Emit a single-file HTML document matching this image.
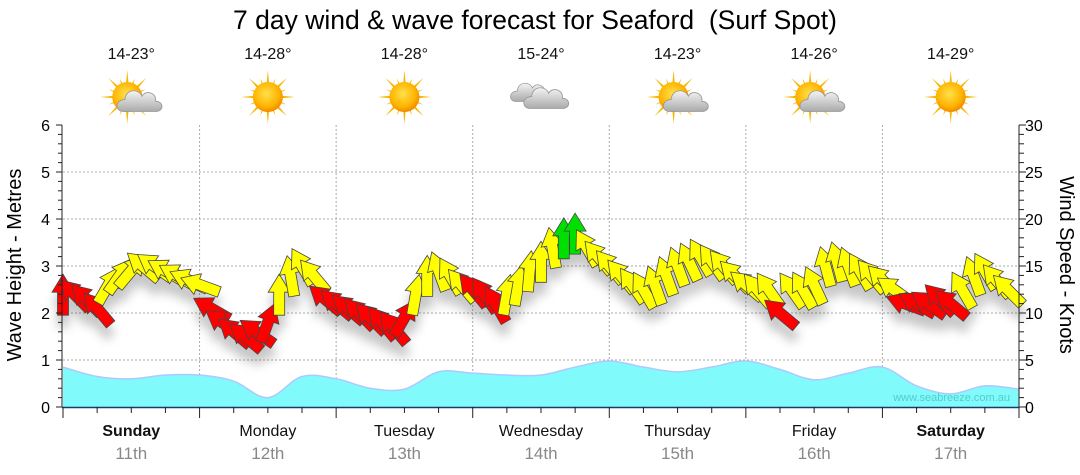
<!DOCTYPE html>
<html><head><meta charset="utf-8">
<style>
html,body{margin:0;padding:0;background:#fff;}
svg{display:block;font-family:"Liberation Sans","DejaVu Sans",sans-serif;}
</style></head>
<body>
<svg id="chart" width="1080" height="475" viewBox="0 0 1080 475">
<defs>
<filter id="sh" x="-50%" y="-50%" width="200%" height="250%">
<feDropShadow dx="0" dy="12" stdDeviation="5" flood-color="#000" flood-opacity="0.22"/>
</filter>
<radialGradient id="sunG" cx="45%" cy="40%" r="60%"><stop offset="0" stop-color="#ffe04a"/><stop offset="0.7" stop-color="#ffb400"/><stop offset="1" stop-color="#f08a00"/></radialGradient>
<linearGradient id="cloudG" x1="0" y1="0" x2="0" y2="1"><stop offset="0" stop-color="#f4f4f4"/><stop offset="1" stop-color="#aaa"/></linearGradient>
</defs>
<text x="535" y="29" text-anchor="middle" font-size="26.5" fill="#000" style="white-space:pre">7 day wind &amp; wave forecast for Seaford  (Surf Spot)</text>
<g id="grid"></g>
<g id="wave"></g>
<text x="1010" y="401" text-anchor="end" font-size="11" fill="#55cccc">www.seabreeze.com.au</text>
<g id="arrows" filter="url(#sh)"></g>
<g id="axes"></g>
<g id="header"></g>
<text transform="translate(21,265) rotate(-90)" text-anchor="middle" font-size="20" fill="#000">Wave Height - Metres</text>
<text transform="translate(1060,265) rotate(90)" text-anchor="middle" font-size="20" fill="#000">Wind Speed - Knots</text>
</svg>
<script>
const days = ["Sunday","Monday","Tuesday","Wednesday","Thursday","Friday","Saturday"];
const dates = ["11th","12th","13th","14th","15th","16th","17th"];
const boldDays = [true,false,false,false,false,false,true];
const temps = ["14-23°","14-28°","14-28°","15-24°","14-23°","14-26°","14-29°"];
const icons = ["partly","sun","sun","cloud","partly","partly","sun"];
const waveTicks = [0,1,2,3,4,5,6];
const windTicks = [0,5,10,15,20,25,30];
// wave height (m), every 6 hours
const waveHeights = [0.85,0.65,0.6,0.68,0.68,0.55,0.2,0.65,0.6,0.4,0.38,0.75,0.72,0.68,0.68,0.85,0.98,0.85,0.75,0.85,0.98,0.8,0.58,0.72,0.85,0.45,0.28,0.45,0.38];
// wind every 2 hours: speed (knots), direction (deg, 0=up), colour category
const windSpeed = [
12,12,11.5,10.5,13,14,14.5,15,15,14.5,14,13.5,
13,10.5,9,8,7.5,8,9,12,14,15,14,11.5,
11,10.5,10,9.5,9,8.5,9.5,12,14,14.5,14,13,
12.5,12,11,12,13,14.5,15.5,17,18,18.5,17,16,
15,14,13,12.5,13,14,15,15.5,16,15.5,15,14,
13,12.5,12.5,10,12.5,12.5,13,15,15.5,15,14.5,14,
13.5,12.5,11,11,11,11.5,11,12.5,14,14.5,13.5,12.5];
const windDir = [
0,-45,-45,-40,30,35,40,-50,-55,-60,-60,-65,
-70,-60,-55,-50,-50,-55,20,0,-10,-30,-40,-50,
-50,-50,-45,-45,-40,-40,30,10,0,-20,-30,-40,
-40,-35,-30,10,10,5,0,-10,0,0,-30,-40,
-40,-40,-35,-30,-20,-20,-20,-25,-30,-35,-40,-45,
-50,-40,-35,-50,-35,-30,-25,-15,-15,-20,-30,-40,
-45,-55,-70,-60,-55,-45,-50,-30,-20,-30,-40,-45];
const windCat = [
"r","r","r","r","y","y","y","y","y","y","y","y",
"y","r","r","r","r","r","r","y","y","y","y","r",
"r","r","r","r","r","r","r","y","y","y","y","y",
"r","r","r","y","y","y","y","y","g","g","y","y",
"y","y","y","y","y","y","y","y","y","y","y","y",
"y","y","y","r","y","y","y","y","y","y","y","y",
"y","y","r","r","r","r","r","y","y","y","y","y"];

const NS="http://www.w3.org/2000/svg";
const X0=63, X1=1019, Y0=407, Y1=125, DAYW=(X1-X0)/7;
const xHour=h=>X0+h/24*DAYW;
const yWave=v=>Y0-v/6*(Y0-Y1);
const yWind=v=>Y0-v/30*(Y0-Y1);
function mk(tag,attrs,parent){const e=document.createElementNS(NS,tag);for(const k in attrs)e.setAttribute(k,attrs[k]);parent.appendChild(e);return e;}
const grid=document.getElementById('grid'),axes=document.getElementById('axes'),header=document.getElementById('header');

for(let m=1;m<=5;m++){const l=mk('line',{x1:X0,x2:X1,y1:yWave(m),y2:yWave(m),stroke:'#aaa','stroke-dasharray':'2,2'},grid);

}
for(let d=1;d<7;d++){const x=X0+d*DAYW;const l=mk('line',{x1:x,x2:x,y1:Y1,y2:Y0,stroke:'#aaa','stroke-dasharray':'2,2'},grid);

}

const wp=waveHeights.map((v,i)=>[xHour(i*6),yWave(v)]);
let d="M"+wp[0][0]+","+wp[0][1];
for(let i=0;i<wp.length-1;i++){const p0=wp[Math.max(0,i-1)],p1=wp[i],p2=wp[i+1],p3=wp[Math.min(wp.length-1,i+2)];
d+=` C${p1[0]+(p2[0]-p0[0])/6},${p1[1]+(p2[1]-p0[1])/6} ${p2[0]-(p3[0]-p1[0])/6},${p2[1]-(p3[1]-p1[1])/6} ${p2[0]},${p2[1]}`;}
const wave=document.getElementById('wave');
const wa=mk('path',{d:d+` L${X1},${Y0} L${X0},${Y0} Z`,fill:'#80fafa'},wave);


const wl=mk('path',{d:d,fill:'none',stroke:'#b0c8ff','stroke-width':1.5},wave);



const cols={r:'#ff0000',y:'#ffff00',g:'#00e000'};
const arrows=document.getElementById('arrows');
const shape="-5.5,21 5.5,21 5.5,-2 11,-2 0,-20 -11,-2 -5.5,-2";
windSpeed.forEach((s,i)=>{const x=xHour(i*2),y=yWind(s);
const a=mk('polygon',{points:shape,fill:cols[windCat[i]],stroke:'#444','stroke-width':0.8,transform:`translate(${x.toFixed(1)},${y.toFixed(1)}) rotate(${windDir[i]})`},arrows);

});

mk('line',{x1:X0-1,x2:X0-1,y1:Y1,y2:Y0,stroke:'#222'},axes);
mk('line',{x1:X1,x2:X1,y1:Y1,y2:Y0,stroke:'#222'},axes);
mk('line',{x1:X0-1,x2:X1,y1:Y0+0.5,y2:Y0+0.5,stroke:'#1a3a6a','stroke-width':1.5},axes);
for(let k=0;k<=30;k++){const v=k*0.2,y=yWave(v);mk('line',{x1:X0-(k%5==0?7:5),x2:X0-1,y1:y,y2:y,stroke:'#222'},axes);}
waveTicks.forEach(v=>{const t=mk('text',{x:50,y:yWave(v)+6,'text-anchor':'end','font-size':16,fill:'#000'},axes);t.textContent=v;

});
for(let k=0;k<=30;k++){const y=yWind(k);mk('line',{x1:X1,x2:X1+(k%5==0?7:5),y1:y,y2:y,stroke:'#222'},axes);}
windTicks.forEach(v=>{const t=mk('text',{x:1025,y:yWind(v)+6,'text-anchor':'start','font-size':16,fill:'#000'},axes);t.textContent=v;

});
for(let h=0;h<=168;h+=6){const x=xHour(h);mk('line',{x1:x,x2:x,y1:Y0,y2:Y0+(h%24==0?11:6),stroke:'#222'},axes);}
days.forEach((n,i)=>{const cx=X0+(i+0.5)*DAYW;
const t=mk('text',{x:cx,y:436,'text-anchor':'middle','font-size':16,fill:'#111','font-weight':boldDays[i]?'bold':'normal'},axes);t.textContent=n;


const t2=mk('text',{x:cx,y:459,'text-anchor':'middle','font-size':17,fill:'#888'},axes);t2.textContent=dates[i];


const tp=mk('text',{x:cx,y:59,'text-anchor':'middle','font-size':16,fill:'#111'},header);tp.textContent=temps[i];


const g=mk('g',{transform:`translate(${cx},97)`},header);


if(icons[i]!=='cloud'){const ox=icons[i]==='partly'?-4:0;
for(let r=0;r<16;r++){const ang=r*22.5,len=r%2?20:27;mk('polygon',{points:`-2.5,0 2.5,0 0,-${len}`,fill:'#f5b800',transform:`translate(${ox},0) rotate(${ang})`},g);}
mk('circle',{cx:ox,cy:0,r:15,fill:'url(#sunG)'},g);}
if(icons[i]==='partly'){drawCloud(g,9,6,0.85);}
if(icons[i]==='cloud'){drawCloud(g,-10,-3,0.75);drawCloud(g,6,3,0.85);}
});
function drawCloud(g,x,y,s){const c=mk('g',{transform:`translate(${x},${y}) scale(${s})`},g);
mk('path',{d:'M-20,10 C-30,10 -30,-4 -18,-4 C-18,-16 -2,-18 2,-8 C6,-16 20,-12 18,-2 C28,-2 28,10 18,10 Z',fill:'url(#cloudG)',stroke:'#999','stroke-width':1},c);}
</script>
</body></html>
